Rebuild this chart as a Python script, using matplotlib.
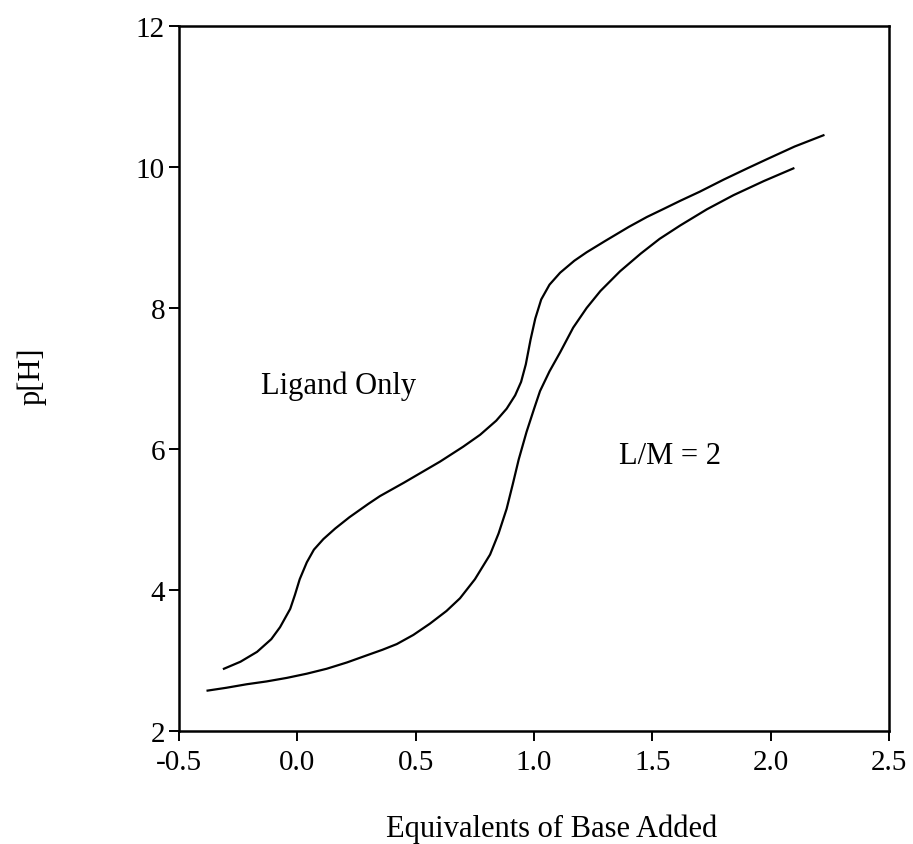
import numpy as np
import matplotlib.pyplot as plt

# Ligand only titration curve
lig_x = [-0.31, -0.24, -0.17, -0.11, -0.073, -0.03, -0.01, 0.01, 0.04, 0.07,
         0.11, 0.16, 0.22, 0.30, 0.349, 0.45, 0.603, 0.70, 0.772, 0.84,
         0.884, 0.92, 0.945, 0.965, 0.985, 1.005, 1.03, 1.065, 1.11, 1.17,
         1.222, 1.30, 1.40, 1.476, 1.55, 1.617, 1.70, 1.80, 1.90, 1.983,
         2.10, 2.222]
lig_y = [2.88, 2.98, 3.12, 3.30, 3.47, 3.73, 3.93, 4.15, 4.39, 4.57,
         4.72, 4.87, 5.03, 5.22, 5.33, 5.52, 5.82, 6.03, 6.20, 6.40,
         6.57, 6.76, 6.95, 7.20, 7.55, 7.85, 8.12, 8.33, 8.50, 8.67,
         8.79, 8.95, 9.15, 9.29, 9.41, 9.52, 9.65, 9.82, 9.98, 10.11,
         10.29, 10.45]

# L/M = 2 titration curve
lm_x = [-0.379, -0.30, -0.214, -0.13, -0.045, 0.04, 0.124, 0.21, 0.293, 0.36,
        0.42, 0.49, 0.56, 0.63, 0.687, 0.75, 0.814, 0.85, 0.884, 0.91,
        0.935, 0.968, 1.00, 1.025, 1.065, 1.11, 1.165, 1.222, 1.28, 1.363,
        1.45, 1.53, 1.617, 1.73, 1.842, 1.97, 2.095]
lm_y = [2.57, 2.61, 2.66, 2.70, 2.75, 2.81, 2.88, 2.97, 3.07, 3.15,
        3.23, 3.36, 3.52, 3.70, 3.88, 4.15, 4.50, 4.80, 5.15, 5.50,
        5.85, 6.24, 6.57, 6.82, 7.10, 7.37, 7.72, 8.00, 8.24, 8.52,
        8.77, 8.98, 9.17, 9.40, 9.60, 9.80, 9.98]

x_ticks = [-0.5, 0.0, 0.5, 1.0, 1.5, 2.0, 2.5]
y_ticks = [2, 4, 6, 8, 10, 12]

plt.rcParams['font.family'] = ['Liberation Serif', 'DejaVu Serif']

fig = plt.figure(figsize=(9.13, 8.45), dpi=100)
ax = fig.add_axes([0.196, 0.134, 0.778, 0.834])

ax.plot(lig_x, lig_y, color='black', lw=1.6, solid_joinstyle='round')
ax.plot(lm_x, lm_y, color='black', lw=1.6, solid_joinstyle='round')

ax.set_xlim(-0.5, 2.5)
ax.set_ylim(2, 12)
ax.set_xticks(x_ticks)
ax.set_xticklabels([f"{v:.1f}" for v in x_ticks])
ax.set_yticks(y_ticks)

for s in ax.spines.values():
    s.set_linewidth(1.8)
ax.tick_params(axis='both', direction='out', length=7, width=1.4,
               labelsize=21)
ax.tick_params(axis='x', pad=6)
ax.tick_params(axis='y', pad=3)

ax.text(0.175, 6.9, "Ligand Only", fontsize=22, ha='center', va='center')
ax.text(1.36, 5.9, "L/M = 2", fontsize=22, ha='left', va='center')

ax.set_xlabel("Equivalents of Base Added", fontsize=22, va='center')
ax.xaxis.set_label_coords(0.524, -0.139)
ax.set_ylabel("p[H]", fontsize=22, va='center')
ax.yaxis.set_label_coords(-0.207, 0.504)

fig.savefig("out.png", dpi=100)
